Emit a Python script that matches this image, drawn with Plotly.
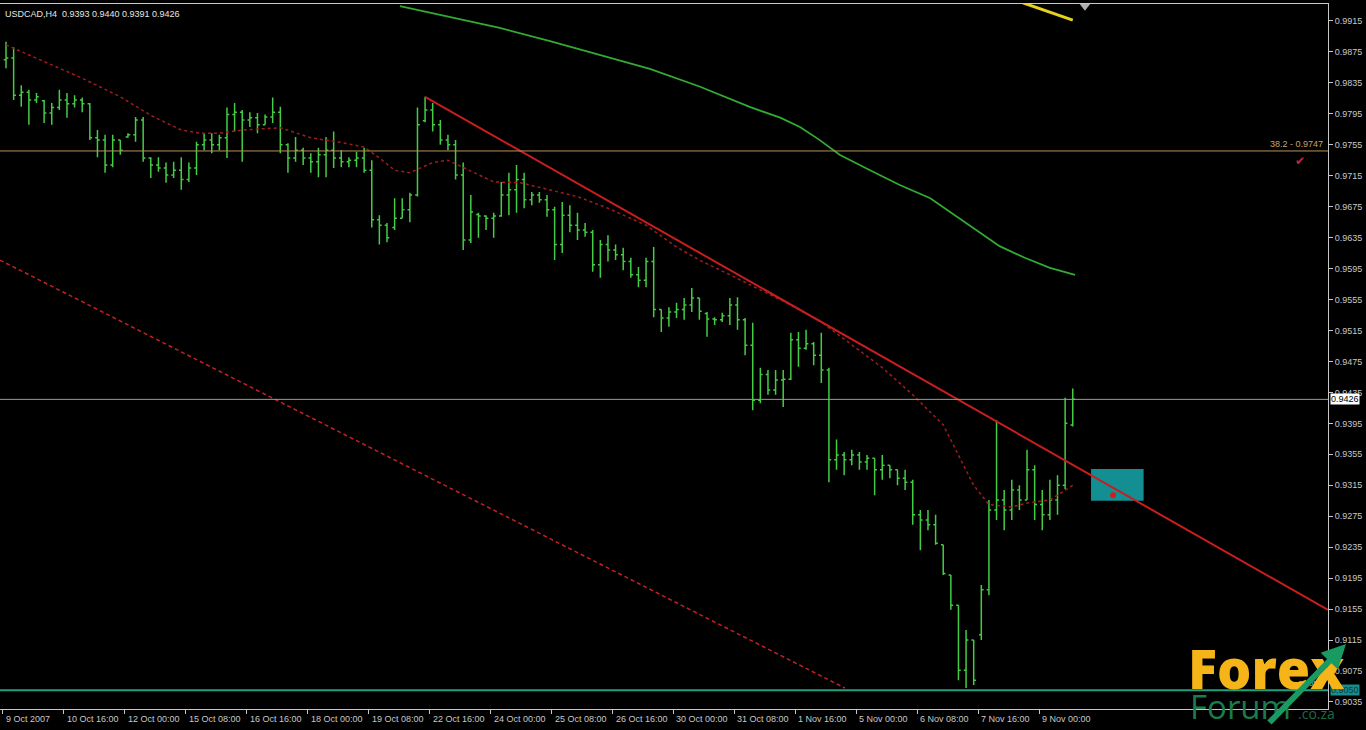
import plotly.graph_objects as go

# ---------------- data ----------------
symbol_title = "USDCAD,H4  0.9393 0.9440 0.9391 0.9426"

open_ = [0.9865,0.9867,0.9819,0.9823,0.9813,0.9812,0.9796,0.9803,0.9813,0.9808,
         0.9813,0.9808,0.9764,0.9761,0.9729,0.9761,0.9765,0.9768,0.9787,0.9738,
         0.9729,0.9725,0.9716,0.9722,0.9710,0.9725,0.9755,0.9761,0.9755,0.9764,
         0.9794,0.9797,0.9787,0.9790,0.9781,0.9791,0.9797,0.9755,0.9738,0.9748,
         0.9738,0.9733,0.9742,0.9748,0.9738,0.9733,0.9735,0.9738,0.9722,0.9658,
         0.9651,0.9648,0.9660,0.9671,0.9690,0.9786,0.9800,0.9781,0.9761,0.9755,
         0.9716,0.9632,0.9665,0.9663,0.9660,0.9663,0.9690,0.9697,0.9710,0.9684,
         0.9690,0.9684,0.9671,0.9626,0.9664,0.9651,0.9645,0.9642,0.9600,0.9626,
         0.9619,0.9613,0.9604,0.9587,0.9580,0.9604,0.9542,0.9531,0.9539,0.9542,
         0.9548,0.9557,0.9537,0.9530,0.9529,0.9534,0.9548,0.9529,0.9496,0.9425,
         0.9458,0.9438,0.9451,0.9452,0.9503,0.9492,0.9498,0.9483,0.9464,0.9348,
         0.9354,0.9348,0.9354,0.9345,0.9350,0.9335,0.9341,0.9335,0.9324,0.9319,
         0.9277,0.9270,0.9264,0.9238,0.9199,0.9160,0.9076,0.9115,0.9122,0.9180,
         0.9283,0.9296,0.9283,0.9309,0.9296,0.9335,0.9290,0.9277,0.9296,0.9315,
         0.9393]
high = [0.9888,0.9881,0.9832,0.9826,0.9822,0.9813,0.9809,0.9826,0.9822,0.9819,
        0.9816,0.9809,0.9774,0.9768,0.9768,0.9761,0.9770,0.9791,0.9791,0.9739,
        0.9739,0.9732,0.9733,0.9739,0.9732,0.9759,0.9770,0.9770,0.9768,0.9803,
        0.9809,0.9800,0.9797,0.9796,0.9794,0.9816,0.9804,0.9757,0.9765,0.9751,
        0.9744,0.9751,0.9765,0.9772,0.9748,0.9739,0.9746,0.9751,0.9735,0.9664,
        0.9654,0.9686,0.9686,0.9693,0.9803,0.9817,0.9809,0.9787,0.9768,0.9761,
        0.9732,0.9690,0.9667,0.9664,0.9667,0.9707,0.9719,0.9729,0.9719,0.9694,
        0.9694,0.9690,0.9675,0.9681,0.9677,0.9667,0.9654,0.9645,0.9632,0.9638,
        0.9626,0.9622,0.9609,0.9597,0.9609,0.9623,0.9542,0.9545,0.9551,0.9557,
        0.9570,0.9557,0.9539,0.9532,0.9538,0.9557,0.9558,0.9531,0.9525,0.9467,
        0.9464,0.9464,0.9464,0.9512,0.9513,0.9516,0.9500,0.9512,0.9467,0.9374,
        0.9358,0.9361,0.9358,0.9354,0.9350,0.9354,0.9341,0.9335,0.9335,0.9322,
        0.9283,0.9283,0.9277,0.9238,0.9199,0.9160,0.9128,0.9115,0.9186,0.9296,
        0.9399,0.9309,0.9322,0.9315,0.9361,0.9341,0.9309,0.9322,0.9328,0.9428,
        0.9440]
low = [0.9854,0.9813,0.9804,0.9781,0.9809,0.9783,0.9781,0.9800,0.9790,0.9803,
       0.9797,0.9761,0.9739,0.9719,0.9726,0.9742,0.9764,0.9759,0.9733,0.9712,
       0.9720,0.9706,0.9712,0.9697,0.9707,0.9716,0.9748,0.9744,0.9748,0.9738,
       0.9772,0.9733,0.9778,0.9770,0.9781,0.9783,0.9744,0.9719,0.9733,0.9729,
       0.9719,0.9713,0.9713,0.9725,0.9726,0.9726,0.9726,0.9719,0.9648,0.9626,
       0.9629,0.9645,0.9660,0.9655,0.9688,0.9784,0.9772,0.9755,0.9748,0.9710,
       0.9619,0.9628,0.9635,0.9645,0.9635,0.9662,0.9664,0.9667,0.9673,0.9677,
       0.9680,0.9662,0.9606,0.9615,0.9642,0.9632,0.9636,0.9591,0.9583,0.9604,
       0.9606,0.9593,0.9583,0.9571,0.9571,0.9532,0.9513,0.9520,0.9531,0.9529,
       0.9539,0.9529,0.9507,0.9522,0.9526,0.9522,0.9516,0.9483,0.9412,0.9421,
       0.9432,0.9432,0.9416,0.9451,0.9468,0.9490,0.9470,0.9447,0.9319,0.9335,
       0.9328,0.9341,0.9335,0.9335,0.9302,0.9322,0.9324,0.9315,0.9309,0.9264,
       0.9231,0.9257,0.9238,0.9199,0.9154,0.9063,0.9053,0.9057,0.9115,0.9173,
       0.9270,0.9257,0.9270,0.9283,0.9296,0.9270,0.9257,0.9270,0.9277,0.9310,
       0.9391]
close = [0.9867,0.9819,0.9823,0.9813,0.9817,0.9796,0.9803,0.9813,0.9808,0.9813,
         0.9808,0.9764,0.9761,0.9729,0.9761,0.9748,0.9768,0.9787,0.9738,0.9729,
         0.9725,0.9716,0.9722,0.9710,0.9725,0.9755,0.9761,0.9755,0.9764,0.9794,
         0.9797,0.9787,0.9790,0.9781,0.9791,0.9797,0.9755,0.9738,0.9748,0.9738,
         0.9733,0.9742,0.9748,0.9738,0.9733,0.9735,0.9738,0.9722,0.9658,0.9651,
         0.9635,0.9660,0.9671,0.9690,0.9781,0.9800,0.9781,0.9761,0.9755,0.9716,
         0.9632,0.9668,0.9663,0.9660,0.9663,0.9690,0.9697,0.9710,0.9684,0.9690,
         0.9684,0.9671,0.9626,0.9664,0.9651,0.9645,0.9642,0.9600,0.9626,0.9619,
         0.9613,0.9604,0.9587,0.9580,0.9604,0.9542,0.9531,0.9539,0.9542,0.9548,
         0.9557,0.9540,0.9530,0.9529,0.9534,0.9548,0.9529,0.9496,0.9425,0.9458,
         0.9438,0.9451,0.9452,0.9503,0.9492,0.9498,0.9483,0.9464,0.9348,0.9354,
         0.9348,0.9354,0.9345,0.9350,0.9335,0.9341,0.9335,0.9324,0.9319,0.9277,
         0.9270,0.9264,0.9240,0.9201,0.9160,0.9076,0.9115,0.9063,0.9180,0.9283,
         0.9296,0.9283,0.9309,0.9296,0.9335,0.9290,0.9277,0.9296,0.9315,0.9395,
         0.9426]
bar_index = list(range(len(close)))

# red dashed moving average
ma_fast_idx = [0, 6, 10, 15, 19, 23, 25.5, 28, 31, 36, 40, 44, 47, 49, 51, 53, 56, 58, 60,
               62, 64, 67.5, 70.5, 75, 79, 84, 88, 91, 95, 99, 103, 107, 111, 115, 119,
               123, 125, 127, 129, 132, 134, 137, 140]
ma_fast_val = [0.9884, 0.9858, 0.9841, 0.9817, 0.9793, 0.9774, 0.9770, 0.9770, 0.9774,
               0.9777, 0.9764, 0.9758, 0.9752, 0.9738, 0.9722, 0.9719, 0.9732, 0.9735,
               0.9726, 0.9716, 0.9707, 0.9706, 0.9699, 0.9688, 0.9673, 0.9651, 0.9623,
               0.9606, 0.9587, 0.9567, 0.9548, 0.9526, 0.9496, 0.9467, 0.9432, 0.9393,
               0.9354, 0.9315, 0.9290, 0.9287, 0.9292, 0.9296, 0.9315]

# green slow moving average
ma_slow_idx = [51.7, 58.3, 64.8, 71.4, 78.0, 84.5, 91.1, 97.6, 101.6, 104.2, 106.8, 109.4,
               113.4, 117.3, 121.3, 123.9, 127.2, 130.4, 133.7, 137.0, 140.3]
ma_slow_val = [0.9934, 0.9920, 0.9906, 0.9889, 0.9871, 0.9853, 0.9830, 0.9804, 0.9790,
               0.9778, 0.9761, 0.9742, 0.9722, 0.9703, 0.9686, 0.9668, 0.9645, 0.9624,
               0.9609, 0.9596, 0.9587]

# yellow line (top right)
ma_yellow_idx = [133, 140]
ma_yellow_val = [0.9940, 0.9916]

# trend lines
trend_idx = [55, 173.5]
trend_val = [0.9817, 0.9154]
channel_idx = [-0.79, 110.1]
channel_val = [0.9606, 0.9053]

# horizontal levels
last_price = 0.9426
fib_level = 0.9747
fib_text = "38.2 - 0.9747"
support_level = 0.9050
zone_idx = [142.4, 149.3]
zone_val = [0.9295, 0.9336]
zone_mark = (145.3, 0.9302)
check_mark = (169.8, 0.9735)
top_arrow = (141.6, 0.9934)

price_ticks = [round(0.9035 + 0.004 * k, 4) for k in range(23)]
time_labels = ["9 Oct 2007", "10 Oct 16:00", "12 Oct 00:00", "15 Oct 08:00", "16 Oct 16:00",
               "18 Oct 00:00", "19 Oct 08:00", "22 Oct 16:00", "24 Oct 00:00", "25 Oct 08:00",
               "26 Oct 16:00", "30 Oct 00:00", "31 Oct 08:00", "1 Nov 16:00", "5 Nov 00:00",
               "6 Nov 08:00", "7 Nov 16:00", "9 Nov 00:00"]
time_label_idx = [8 * k - 0.4 for k in range(len(time_labels))]

# ---------------- figure ----------------
FONT = "Liberation Sans, Arial, sans-serif"
AXC = "#c8c8c8"
x_range = [-0.79, 173.5]
y_range = [0.90259, 0.99369]

fig = go.Figure()

fig.add_trace(go.Scatter(x=channel_idx, y=channel_val, mode="lines",
                         line=dict(color="#c62020", width=1.5, dash="4px,3px"),
                         hoverinfo="skip"))
fig.add_trace(go.Scatter(x=ma_fast_idx, y=ma_fast_val, mode="lines",
                         line=dict(color="#a01c1c", width=1.5, dash="3px,3px"),
                         hoverinfo="skip"))
fig.add_trace(go.Scatter(x=ma_slow_idx, y=ma_slow_val, mode="lines",
                         line=dict(color="#33aa33", width=1.8), hoverinfo="skip"))
fig.add_trace(go.Scatter(x=ma_yellow_idx, y=ma_yellow_val, mode="lines",
                         line=dict(color="#e6d21e", width=3), hoverinfo="skip"))
fig.add_trace(go.Scatter(x=trend_idx, y=trend_val, mode="lines",
                         line=dict(color="#c81e1e", width=2), hoverinfo="skip"))

fig.add_trace(go.Ohlc(x=bar_index, open=open_, high=high, low=low, close=close,
                      increasing=dict(line=dict(color="#44cc44", width=1.5)),
                      decreasing=dict(line=dict(color="#44cc44", width=1.5)),
                      tickwidth=0.3, hoverinfo="skip"))

fig.add_trace(go.Scatter(x=[zone_mark[0]], y=[zone_mark[1]], mode="markers",
                         marker=dict(color="#e01818", size=6, symbol="circle"), hoverinfo="skip"))
fig.add_trace(go.Scatter(x=[top_arrow[0]], y=[top_arrow[1]], mode="markers", cliponaxis=False,
                         marker=dict(color="#b0b0b0", size=9, symbol="triangle-down",
                                     line=dict(width=0)),
                         hoverinfo="skip"))

shapes = [
    dict(type="rect", xref="x", yref="y", x0=zone_idx[0], x1=zone_idx[1],
         y0=zone_val[0], y1=zone_val[1], fillcolor="#138f94", line=dict(width=0), layer="below"),
    dict(type="line", xref="paper", yref="y", x0=0, x1=1, y0=last_price, y1=last_price,
         line=dict(color="#9c9c9c", width=1)),
    dict(type="line", xref="paper", yref="y", x0=0, x1=1, y0=fib_level, y1=fib_level,
         line=dict(color="#b8915a", width=1)),
    dict(type="line", xref="paper", yref="y", x0=0, x1=1, y0=support_level, y1=support_level,
         line=dict(color="#1fa07e", width=2)),
]

ann = []
ann.append(dict(text=symbol_title, xref="paper", yref="paper", x=0.002, y=(709 - 14) / 705,
                xanchor="left", yanchor="middle", showarrow=False,
                font=dict(family=FONT, size=9, color="#e6e6e6")))
for lab, xi in zip(time_labels, time_label_idx):
    ann.append(dict(text=lab, xref="x", yref="paper", x=max(xi, -0.79), y=-0.0135,
                    xanchor="left", yanchor="middle", xshift=1, showarrow=False,
                    font=dict(family=FONT, size=9, color=AXC)))
ann.append(dict(text=fib_text, xref="paper", yref="y", x=0.998, y=fib_level,
                xanchor="right", yanchor="bottom", showarrow=False,
                font=dict(family=FONT, size=9, color="#c8a46a")))
ann.append(dict(text="✔", xref="x", yref="y", x=check_mark[0], y=check_mark[1],
                showarrow=False, font=dict(size=12, color="#d0203a")))
ann.append(dict(text="%.4f" % last_price, xref="paper", yref="y", x=1.0, y=last_price,
                xanchor="left", yanchor="middle", xshift=2, showarrow=False, bgcolor="#ffffff",
                borderpad=0, font=dict(family=FONT, size=9, color="#000000")))
ann.append(dict(text="%.4f" % support_level, xref="paper", yref="y", x=1.0, y=support_level,
                xanchor="left", yanchor="middle", xshift=2, showarrow=False,
                bgcolor="#178c8c", borderpad=0, font=dict(family=FONT, size=9, color="#0b3c3c")))
ann.append(dict(text="%.4f" % support_level, xref="paper", yref="y", x=0.998, y=support_level,
                xanchor="right", yanchor="bottom", showarrow=False,
                font=dict(family=FONT, size=8, color="#bdbdbd")))

# logo
ann.append(dict(text="Forex", xref="paper", yref="paper", x=1186 / 1328, y=(709 - 668) / 705,
                xanchor="left", yanchor="middle", showarrow=False,
                font=dict(family="Open Sans, sans-serif", size=54, weight=800, color="#f5b417")))
ann.append(dict(text="Forum", xref="paper", yref="paper", x=1188 / 1328, y=(709 - 706) / 705,
                xanchor="left", yanchor="middle", showarrow=False,
                font=dict(family="Open Sans, sans-serif", size=33, color="#1c7a4c")))
ann.append(dict(text=".co.za", xref="paper", yref="paper", x=1296 / 1328, y=(709 - 714) / 705,
                xanchor="left", yanchor="middle", showarrow=False,
                font=dict(family="Open Sans, sans-serif", size=14, color="#1c6b46")))
ann.append(dict(text="", xref="paper", yref="paper", x=1346 / 1328, y=(709 - 644) / 705,
                ax=-78, ay=80, showarrow=True, arrowhead=2, arrowsize=0.8, arrowwidth=6,
                arrowcolor="#1a9a63"))

fig.update_layout(
    width=1366, height=730,
    margin=dict(l=0, r=38, t=4, b=21),
    paper_bgcolor="#000000", plot_bgcolor="#000000",
    showlegend=False, hovermode=False,
    shapes=shapes, annotations=ann,
    xaxis=dict(range=x_range, showgrid=False, zeroline=False, rangeslider=dict(visible=False),
               tickvals=time_label_idx, showticklabels=False, ticks="outside", ticklen=4,
               tickcolor=AXC, showline=True, linecolor=AXC, linewidth=1, mirror=True),
    yaxis=dict(range=y_range, side="right", showgrid=False, zeroline=False,
               tickvals=price_ticks, ticktext=["%.4f" % v for v in price_ticks],
               ticks="outside", ticklen=4, tickcolor=AXC, showline=True, linecolor=AXC,
               linewidth=1, tickfont=dict(family=FONT, size=9, color=AXC)),
)

fig.write_html("out.html", config={"displayModeBar": False},
               post_script="document.body.style.margin='0';document.body.style.background='#000';")
